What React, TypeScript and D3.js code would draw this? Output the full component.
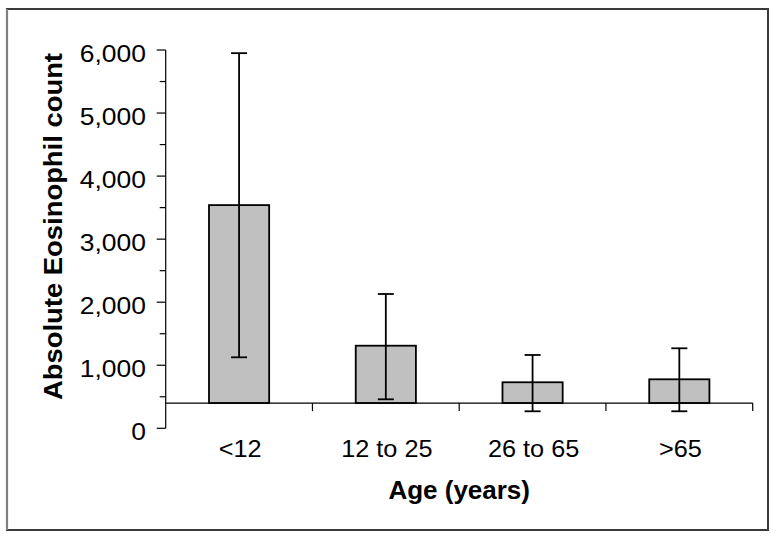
import React from "react";
import * as d3 from "d3";

const categories = ["<12", "12 to 25", "26 to 65", ">65"];
const means = [3540, 1310, 730, 777];
const upper = [5950, 2130, 1163, 1269];
const lower = [1126, 460, 270, 270];
const yTicks = [0, 1000, 2000, 3000, 4000, 5000, 6000];
const yMinorTicks = [500, 1500, 2500, 3500, 4500, 5500];
const axisCross = 400;

export default function App() {
  const W = 776, H = 540;
  const left = 165.7, right = 752.7, top = 50, bottom = 428.3;
  const y = d3.scaleLinear().domain([0, 6000]).range([bottom, top]);
  const x = d3.scalePoint<string>().domain(categories).range([left, right]).padding(0.5);
  const step = x.step();
  const barW = step * 0.41;
  const fmt = d3.format(",");
  const yc = y(axisCross);
  const boundaries = d3.range(categories.length + 1).map((i) => left + i * step);

  return (
    <svg width={W} height={H} style={{ position: "absolute", left: 0, top: 0 }}
      fontFamily="'Liberation Sans', Arial, sans-serif">
      <rect x={0} y={0} width={W} height={H} fill="#fff" />
      <rect x={7} y={9} width={761} height={521} fill="none" stroke="#3a3a3a" strokeWidth={2} />
      <line x1={7} x2={7} y1={9} y2={530} stroke="#808080" strokeWidth={2.2} />

      {categories.map((c, i) => {
        const cx = x(c)!;
        return (
          <g key={c}>
            <rect x={cx - barW / 2} y={y(means[i])} width={barW} height={yc - y(means[i])}
              fill="#c0c0c0" stroke="#000" strokeWidth={1.8} />
            <line x1={cx} x2={cx} y1={y(upper[i])} y2={y(lower[i])} stroke="#000" strokeWidth={1.8} />
            <line x1={cx - 8} x2={cx + 8} y1={y(upper[i])} y2={y(upper[i])} stroke="#000" strokeWidth={1.8} />
            <line x1={cx - 8} x2={cx + 8} y1={y(lower[i])} y2={y(lower[i])} stroke="#000" strokeWidth={1.8} />
            <text transform={`translate(${cx + 1},456.5) scale(1.1,1)`} fontSize={23}
              textAnchor="middle" fill="#000">{c}</text>
          </g>
        );
      })}

      {/* y axis */}
      <line x1={left} x2={left} y1={y(0)} y2={y(6000)} stroke="#000" strokeWidth={1.2} />
      {yTicks.map((t) => (
        <g key={t}>
          <line x1={left - 9} x2={left} y1={y(t)} y2={y(t)} stroke="#000" strokeWidth={1.2} />
          <text transform={`translate(146,${y(t) + 11.5}) scale(1.08,1)`} fontSize={24.5}
            textAnchor="end" fill="#000">{fmt(t)}</text>
        </g>
      ))}
      {yMinorTicks.map((t) => (
        <line key={t} x1={left - 6} x2={left} y1={y(t)} y2={y(t)} stroke="#000" strokeWidth={1.2} />
      ))}

      {/* x axis */}
      <line x1={left} x2={right} y1={yc} y2={yc} stroke="#000" strokeWidth={1.2} />
      {boundaries.slice(1).map((b, i) => (
        <line key={i} x1={b} x2={b} y1={yc} y2={yc + 8} stroke="#000" strokeWidth={1.2} />
      ))}

      <text x={(left + right) / 2} y={499.3} fontSize={26} fontWeight="bold" textAnchor="middle" fill="#000">
        Age (years)
      </text>
      <text transform={`translate(62,226.5) rotate(-90)`} fontSize={26.5} fontWeight="bold"
        textAnchor="middle" fill="#000" textLength={347} lengthAdjust="spacingAndGlyphs">
        Absolute Eosinophil count
      </text>
    </svg>
  );
}
